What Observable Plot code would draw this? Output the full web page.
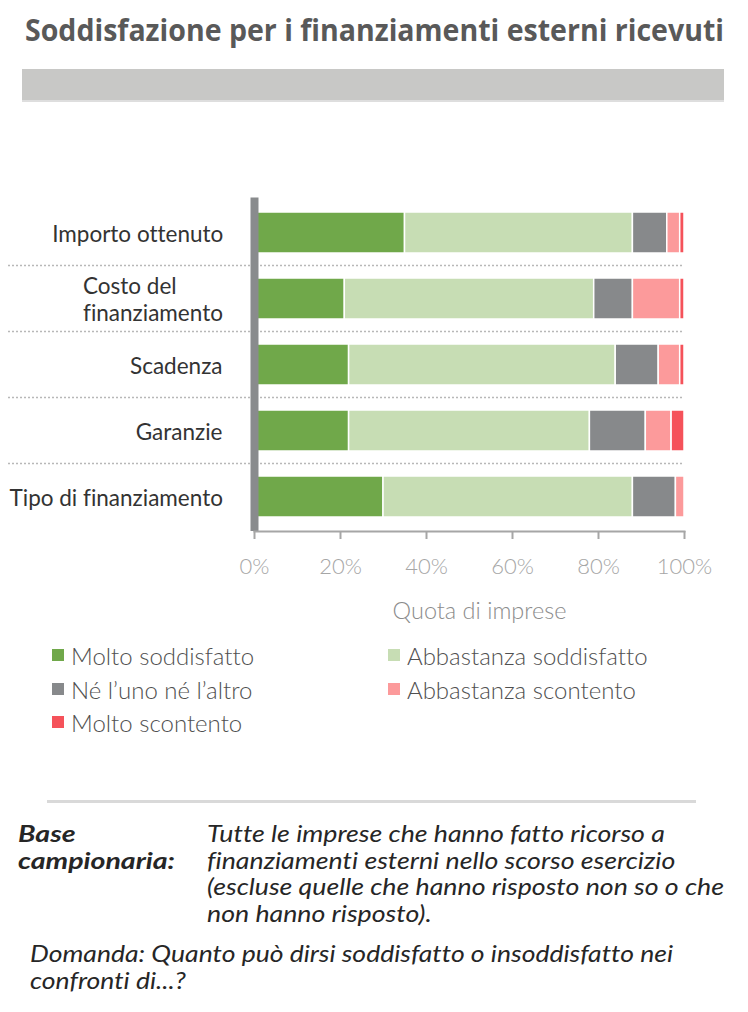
<!DOCTYPE html>
<html><head><meta charset="utf-8">
<script src="https://cdn.jsdelivr.net/npm/d3@7"></script>
<script src="https://cdn.jsdelivr.net/npm/@observablehq/plot@0.6"></script>
<style>
html,body{margin:0;padding:0;background:#fff;}
body{width:748px;height:1012px;position:relative;overflow:hidden;font-family:Lato,"Open Sans",sans-serif;font-variant-ligatures:none;font-feature-settings:"liga" 0,"clig" 0;}
svg text{font-variant-ligatures:none;font-feature-settings:"liga" 0,"clig" 0;}
#title{position:absolute;left:25px;top:9px;font-family:"Open Sans",sans-serif;font-size:31px;line-height:40px;font-weight:700;color:#595959;white-space:nowrap;transform-origin:left top;}
#band{position:absolute;left:22px;top:69px;width:702px;height:31px;background:#c8c8c6;border-bottom:2px solid #dedede;}
#chart{position:absolute;left:0;top:130px;}
#legend{position:absolute;left:0;top:638px;width:748px;}
.lg{position:absolute;display:flex;align-items:center;white-space:nowrap;font-size:24px;font-weight:300;color:#505050;}
.lg span.sw{display:inline-block;width:12px;height:12px;margin-right:7px;}
#sep{position:absolute;left:47px;top:800px;width:649px;height:3px;background:#d9d9d9;}
.ft{position:absolute;font-style:italic;font-size:23px;line-height:26.7px;color:#262626;white-space:nowrap;transform-origin:left top;}
#base{left:18px;top:820px;font-weight:700;}
#desc{left:207px;top:820px;}
#dom{left:30px;top:940px;}
</style>
</head><body>
<div id="title"></div>
<div id="band"></div>
<div id="chart"></div>
<div id="legend"></div>
<div id="sep"></div>
<div id="base" class="ft"></div>
<div id="desc" class="ft"></div>
<div id="dom" class="ft"></div>
<script>
// ---- data ----
const titleText = "Soddisfazione per i finanziamenti esterni ricevuti";
const categories = ["Importo ottenuto", "Costo del\nfinanziamento", "Scadenza", "Garanzie", "Tipo di finanziamento"];
const responses = ["Molto soddisfatto", "Abbastanza soddisfatto", "Né l’uno né l’altro", "Abbastanza scontento", "Molto scontento"];
const colors = ["#70a84a", "#c7ddb4", "#87898b", "#fc9a9b", "#f5525a"];
const moltoSoddisfatto = [35, 21, 22, 22, 30];
const abbastanzaSoddisfatto = [53, 58, 62, 56, 58];
const neUnoNeAltro = [8, 9, 10, 13, 10];
const abbastanzaScontento = [3, 11, 5, 6, 2];
const moltoScontento = [1, 1, 1, 3, 0];
const xTicks = [0, 20, 40, 60, 80, 100];
const xLabel = "Quota di imprese";
const baseLabel = ["Base", "campionaria:"];
const baseText = ["Tutte le imprese che  hanno fatto ricorso a", "finanziamenti esterni nello scorso esercizio", "(escluse quelle  che hanno risposto non so o che", "non hanno risposto)."];
const domandaText = ["Domanda: Quanto può dirsi soddisfatto o insoddisfatto nei", "confronti di...?"];

const series = [moltoSoddisfatto, abbastanzaSoddisfatto, neUnoNeAltro, abbastanzaScontento, moltoScontento];
const data = [];
categories.forEach((c, i) => responses.forEach((r, j) => data.push({category: c, response: r, value: series[j][i]})));

// ---- helpers ----
function fitWidth(el, target) {
  const w = el.getBoundingClientRect().width;
  if (w > 0) el.style.transform = `scaleX(${target / w})`;
}
const canvas = document.createElement("canvas");
const ctx = canvas.getContext("2d");
function textW(s, font) { ctx.font = font; return d3.max(s.split("\n"), l => ctx.measureText(l).width); }

// ---- title ----
const t = document.getElementById("title");
t.textContent = titleText;
fitWidth(t, 699);

// ---- chart ----
const labelFont = '400 22.5px Lato';
const labelGap = 32;

const separators = (index, scales, values, dimensions) => {
  const y = scales.y;
  const bw = y.bandwidth ? y.bandwidth() : 0;
  const g = d3.create("svg:g");
  for (let i = 1; i < categories.length; i++) {
    const yy = (y(categories[i - 1]) + bw + y(categories[i])) / 2;
    g.append("line").attr("x1", 8).attr("x2", dimensions.width - dimensions.marginRight)
      .attr("y1", yy).attr("y2", yy)
      .attr("stroke", "#b8b8b8").attr("stroke-width", 1.5).attr("stroke-dasharray", "2,2");
  }
  return g.node();
};

const yLabelMarks = categories.map(c => Plot.text([c], {
  x: () => 0, y: () => c, text: d => d,
  textAnchor: "start", dx: -(labelGap + textW(c, labelFont)),
  fontFamily: "Lato", fontSize: 22.5, fill: "#333333", lineHeight: 1.18
}));

const plot = Plot.plot({
  width: 748, height: 500,
  marginLeft: 254, marginRight: 64, marginTop: 67.5, marginBottom: 99,
  style: {fontFamily: 'Lato, "Open Sans", sans-serif', background: "transparent"},
  x: {domain: [0, 100], axis: null},
  y: {domain: categories, axis: null, paddingInner: 0.38, paddingOuter: 0.19},
  color: {domain: responses, range: colors},
  marks: [
    separators,
    Plot.barX(data, Plot.stackX({x: "value", y: "category", fill: "response", order: responses, stroke: "white", strokeWidth: 1.5})),
    Plot.ruleX([0], {stroke: "#898b8d", strokeWidth: 8}),
    Plot.frame({anchor: "bottom", stroke: "#a6a6a6", strokeWidth: 2}),
    Plot.axisX({ticks: xTicks, tickFormat: d => d + "%", tickSize: 8, tickPadding: 19, fontSize: 22, fontWeight: 300, color: "#a6a6a6", label: null, strokeWidth: 2}),
    Plot.text([xLabel], {frameAnchor: "bottom", dy: 87, dx: 10, text: d => d, fontSize: 23.5, fontWeight: 300, fill: "#8c8c8c"}),
    ...yLabelMarks
  ]
});
document.getElementById("chart").appendChild(plot);

// ---- legend ----
const lgPos = [[52, 17], [388, 17], [52, 51], [388, 51], [52, 84]];
const legend = d3.select("#legend");
responses.forEach((r, i) => {
  const it = legend.append("div").attr("class", "lg")
    .style("left", lgPos[i][0] + "px").style("top", (lgPos[i][1] - 15) + "px").style("height", "30px");
  it.append("span").attr("class", "sw").style("background", colors[i]);
  it.append("span").text(r);
});

// ---- footer ----
const setLines = (id, lines) => { const el = document.getElementById(id); el.innerHTML = ""; lines.forEach((l, i) => { if (i) el.appendChild(document.createElement("br")); el.appendChild(document.createTextNode(l)); }); return el; };
fitWidth(setLines("base", baseLabel), 157);
fitWidth(setLines("desc", baseText), 517);
fitWidth(setLines("dom", domandaText), 643);
</script>
</body></html>
